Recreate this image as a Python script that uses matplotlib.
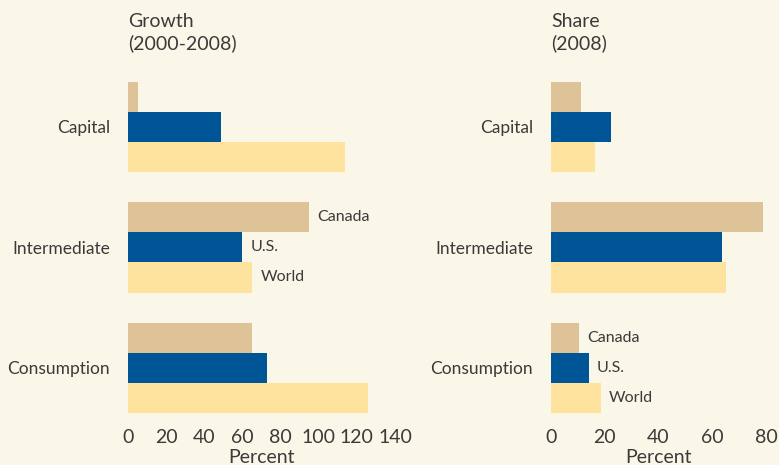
import matplotlib.pyplot as plt
import numpy as np

# data
categories = ["Capital", "Intermediate", "Consumption"]
series = ["Canada", "U.S.", "World"]
growth_canada = [5, 95, 65]
growth_us = [49, 60, 73]
growth_world = [114, 65, 126]
share_canada = [11, 79, 10.5]
share_us = [22.5, 63.5, 14]
share_world = [16.5, 65, 18.5]
growth_ticks = [0, 20, 40, 60, 80, 100, 120, 140]
share_ticks = [0, 20, 40, 60, 80]

colors = ["#dfc398", "#005596", "#fde39d"]
bg = "#fbf7e8"
txt = "#3a3a3a"

plt.rcParams['font.family'] = ['Lato', 'DejaVu Sans']
plt.rcParams['font.size'] = 13

fig = plt.figure(figsize=(7.79, 4.65), dpi=100, facecolor=bg)
ax1 = fig.add_axes([128 / 779, 0.0925, 267 / 779, 0.764])
ax2 = fig.add_axes([551 / 779, 0.0925, 215 / 779, 0.764])

ypos = np.arange(len(categories))
h = 0.25


def draw(ax, vals, ticks, xmax, label_idx, title):
    ax.set_facecolor(bg)
    for k, (v, c) in enumerate(zip(vals, colors)):
        ax.barh(ypos + (k - 1) * h, v, height=h, color=c, linewidth=0)
    # series labels next to one group
    for k, name in enumerate(series):
        ax.annotate(name, (vals[k][label_idx], label_idx + (k - 1) * h),
                    xytext=(6, 0), textcoords='offset points',
                    va='center', ha='left', color=txt, fontsize=11.5)
    ax.set_xlim(0, xmax)
    ax.set_ylim(2.45, -0.5)
    ax.set_xticks(ticks)
    ax.set_yticks(ypos)
    ax.set_yticklabels(categories)
    ax.tick_params(length=0, colors=txt, labelsize=14)
    ax.tick_params(axis='y', pad=13, labelsize=12.5)
    ax.tick_params(axis='x', pad=5)
    for s in ax.spines.values():
        s.set_visible(False)
    ax.set_xlabel("Percent", color=txt, fontsize=14, labelpad=2)
    fig.text(ax.get_position().x0, 1 - 13 / 465, title, ha='left', va='top',
             color=txt, fontsize=14, linespacing=1.3)


draw(ax1, [growth_canada, growth_us, growth_world], growth_ticks, 140, 1,
     "Growth\n(2000-2008)")
draw(ax2, [share_canada, share_us, share_world], share_ticks, 80, 2,
     "Share\n(2008)")

fig.savefig("out.png", dpi=100, facecolor=bg)
